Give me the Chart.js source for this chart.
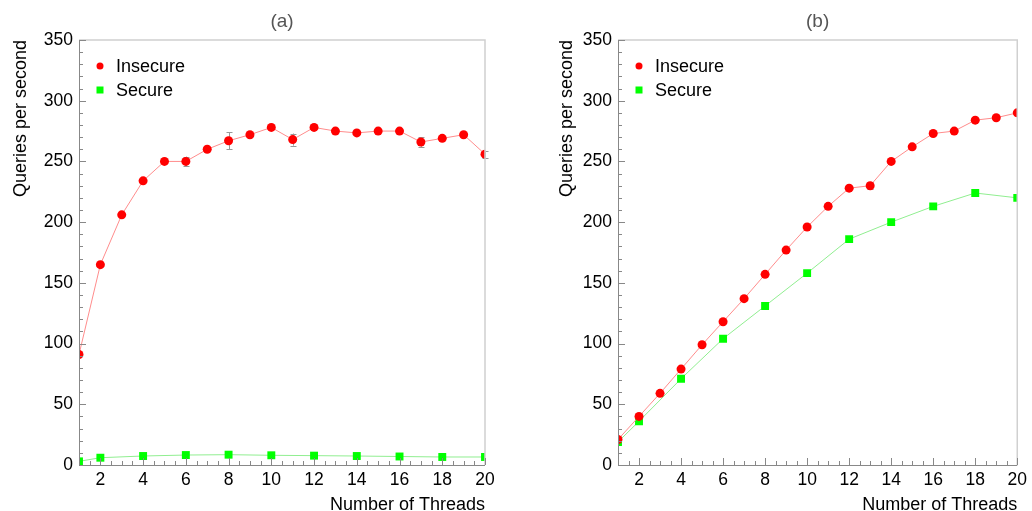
<!DOCTYPE html>
<html>
<head>
<meta charset="utf-8">
<script src="https://cdn.jsdelivr.net/npm/chart.js@4.4.0/dist/chart.umd.min.js"></script>
<style>
  body { margin: 0; background: #fff; width: 1032px; height: 511px; overflow: hidden; position: relative; }
  .panel { position: absolute; top: 0; width: 516px; height: 511px; }
</style>
</head>
<body>
<div class="panel" style="left:0"><canvas id="chartA" width="516" height="511"></canvas></div>
<div class="panel" style="left:516px"><canvas id="chartB" width="516" height="511"></canvas></div>
<script>
// donnees
const threads = [1, 2, 3, 4, 5, 6, 7, 8, 9, 10, 11, 12, 13, 14, 15, 16, 17, 18, 19, 20];
const secureThreads = [1, 2, 4, 6, 8, 10, 12, 14, 16, 18, 20];
const xTickLabels = [2, 4, 6, 8, 10, 12, 14, 16, 18, 20];

// panneau (a)
const insecureA = [91, 165, 206, 234, 250, 250, 260, 267, 272, 278, 268, 278, 275, 273.5, 275, 275, 266, 269, 272, 256];
const insecureAErr = [0, 0, 0, 0, 0, 4, 0, 7, 0, 1, 5, 0, 0, 0, 0, 0, 4, 0, 0, 3];
const secureA = [3, 6, 7.4, 8.2, 8.5, 8, 7.7, 7.4, 7, 6.6, 6.6];

// panneau (b)
const insecureB = [21, 40, 59, 79, 99, 118, 137, 157, 177, 196, 213, 228, 230, 250, 262, 273, 275, 284, 286, 290];
const insecureBErr = [0, 0, 0, 0, 0, 0, 0, 0, 0, 0, 0, 0, 3, 0, 0, 0, 0, 0, 0, 0];
const secureB = [19, 36, 71, 104, 131, 158, 186, 200, 213, 224, 220];

const FONT = "'Liberation Sans', Arial, sans-serif";

// cadre + graduations vers l'interieur
const frameTicks = {
  id: 'frameTicks',
  afterDatasetsDraw(chart) {
    const { ctx, chartArea: a, scales: { x, y } } = chart;
    ctx.save();
    ctx.strokeStyle = '#d0d0d0';
    ctx.lineWidth = 1.5;
    ctx.beginPath();
    ctx.moveTo(a.left, a.top);
    ctx.lineTo(a.right, a.top);
    ctx.lineTo(a.right, a.bottom);
    ctx.stroke();

    ctx.strokeStyle = '#888';
    ctx.lineWidth = 1;
    ctx.beginPath();
    ctx.moveTo(a.left + 0.5, a.top);
    ctx.lineTo(a.left + 0.5, a.bottom + 0.5);
    ctx.lineTo(a.right, a.bottom + 0.5);
    for (let v = 0; v <= 350; v += 10) {
      const py = Math.round(y.getPixelForValue(v)) + 0.5;
      const len = v % 50 === 0 ? 7 : 4;
      ctx.moveTo(a.left, py);
      ctx.lineTo(a.left + len, py);
    }
    for (let v = 1; v <= 20; v += 0.5) {
      const px = Math.round(x.getPixelForValue(v)) + 0.5;
      const len = v % 2 === 0 ? 7 : 4;
      ctx.moveTo(px, a.bottom);
      ctx.lineTo(px, a.bottom - len);
    }
    ctx.stroke();
    ctx.restore();
  }
};

// barres d'erreur
const errorBars = {
  id: 'errorBars',
  beforeDatasetsDraw(chart) {
    const { ctx, scales: { x, y } } = chart;
    ctx.save();
    ctx.strokeStyle = '#999';
    ctx.lineWidth = 1;
    chart.data.datasets.forEach(ds => {
      if (!ds.errors) return;
      ds.data.forEach((p, i) => {
        const e = ds.errors[i];
        if (!e) return;
        const px = Math.round(x.getPixelForValue(p.x)) + 0.5;
        const y1 = y.getPixelForValue(p.y - e);
        const y2 = y.getPixelForValue(p.y + e);
        ctx.beginPath();
        ctx.moveTo(px, y1); ctx.lineTo(px, y2);
        ctx.moveTo(px - 3, Math.round(y1) + 0.5); ctx.lineTo(px + 3, Math.round(y1) + 0.5);
        ctx.moveTo(px - 3, Math.round(y2) + 0.5); ctx.lineTo(px + 3, Math.round(y2) + 0.5);
        ctx.stroke();
      });
    });
    ctx.restore();
  }
};

// legende dans le cadre
const innerLegend = {
  id: 'innerLegend',
  afterDraw(chart) {
    const { ctx, chartArea: a } = chart;
    ctx.save();
    ctx.font = '18px ' + FONT;
    ctx.textBaseline = 'middle';
    chart.data.datasets.forEach((ds, i) => {
      const mx = a.left + 21;
      const my = a.top + 26 + i * 24;
      ctx.fillStyle = ds.backgroundColor;
      if (ds.pointStyle === 'rect') {
        ctx.fillRect(mx - 3.5, my - 3.5, 7, 7);
      } else {
        ctx.beginPath();
        ctx.arc(mx, my, 3.5, 0, Math.PI * 2);
        ctx.fill();
      }
      ctx.fillStyle = '#000';
      ctx.fillText(ds.label, a.left + 37, my + 1);
    });
    ctx.restore();
  }
};

function makeChart(id, title, insecure, insecureErr, secure, leftWidth, yTitlePad, rightPad) {
  new Chart(document.getElementById(id), {
    type: 'line',
    data: {
      datasets: [
        {
          label: 'Insecure',
          data: threads.map((t, i) => ({ x: t, y: insecure[i] })),
          errors: insecureErr,
          borderColor: '#ff8c8c',
          borderWidth: 1,
          backgroundColor: '#ff0000',
          pointStyle: 'circle',
          pointRadius: 4.5,
          pointBorderWidth: 0,
          tension: 0
        },
        {
          label: 'Secure',
          data: secureThreads.map((t, i) => ({ x: t, y: secure[i] })),
          borderColor: '#90ee90',
          borderWidth: 1,
          backgroundColor: '#00ff00',
          pointStyle: 'rect',
          pointRadius: 5.6,
          pointBorderWidth: 0,
          tension: 0
        }
      ]
    },
    options: {
      responsive: false,
      animation: false,
      events: [],
      layout: { autoPadding: false, padding: { left: 0, right: rightPad, top: 0, bottom: 0 } },
      plugins: {
        legend: { display: false },
        tooltip: { enabled: false },
        title: {
          display: true,
          text: title,
          fullSize: false,
          color: '#555',
          font: { family: FONT, size: 19, weight: 'normal' },
          padding: { top: 10.6, bottom: 6.6 }
        }
      },
      scales: {
        x: {
          type: 'linear',
          min: 1,
          max: 20,
          grid: { display: false, drawTicks: false },
          border: { display: false },
          afterBuildTicks: s => { s.ticks = xTickLabels.map(v => ({ value: v })); },
          afterFit: s => { s.height = 46; },
          ticks: { color: '#000', font: { family: FONT, size: 17.5 }, padding: 5, maxRotation: 0, autoSkip: false },
          title: {
            display: true,
            text: 'Number of Threads',
            align: 'end',
            color: '#000',
            font: { family: FONT, size: 18 },
            padding: { top: 0, bottom: -5 }
          }
        },
        y: {
          min: 0,
          max: 350,
          grid: { display: false, drawTicks: false },
          border: { display: false },
          afterFit: s => { s.width = leftWidth; },
          ticks: { stepSize: 50, color: '#000', font: { family: FONT, size: 17.5 }, padding: 6 },
          title: {
            display: true,
            text: 'Queries per second',
            align: 'end',
            color: '#000',
            font: { family: FONT, size: 18 },
            padding: { top: yTitlePad, bottom: 0 }
          }
        }
      }
    },
    plugins: [errorBars, frameTicks, innerLegend]
  });
}

makeChart('chartA', '(a)', insecureA, insecureAErr, secureA, 79, 10, 31);
makeChart('chartB', '(b)', insecureB, insecureBErr, secureB, 102, 40, 9);
</script>
</body>
</html>
